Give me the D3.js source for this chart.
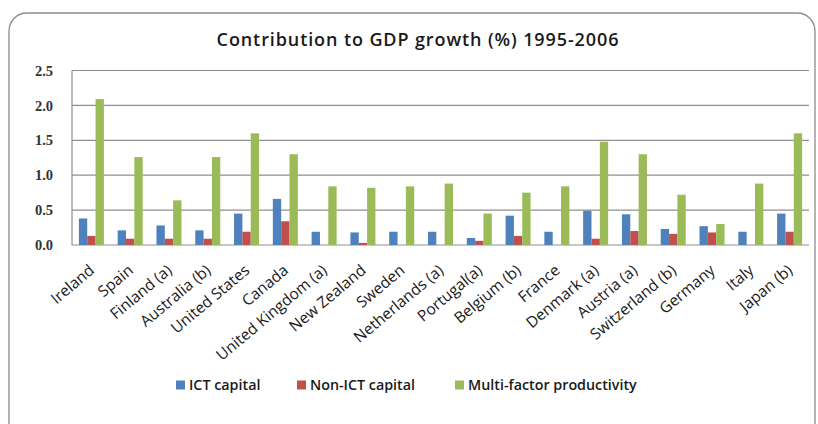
<!DOCTYPE html>
<html>
<head>
<meta charset="utf-8">
<script src="https://cdn.jsdelivr.net/npm/d3@7"></script>
<style>
  body { margin: 0; background: #fff; }
  svg { display: block; font-family: "Open Sans", "Liberation Sans", sans-serif; }
</style>
</head>
<body>
<svg id="chart" width="818" height="424"></svg>
<script>
// data
const countries = ["Ireland", "Spain", "Finland (a)", "Australia (b)", "United States", "Canada",
  "United Kingdom (a)", "New Zealand", "Sweden", "Netherlands (a)", "Portugal(a)", "Belgium (b)",
  "France", "Denmark (a)", "Austria (a)", "Switzerland (b)", "Germany", "Italy", "Japan (b)"]
const ictCapital    = [0.38, 0.21, 0.28, 0.21, 0.45, 0.66, 0.19, 0.18, 0.19, 0.19, 0.10, 0.42, 0.19, 0.49, 0.44, 0.23, 0.27, 0.19, 0.45]
const nonIctCapital = [0.13, 0.09, 0.09, 0.09, 0.19, 0.34, 0.00, 0.03, 0.00, 0.00, 0.06, 0.13, 0.00, 0.09, 0.20, 0.16, 0.18, 0.00, 0.19]
const multiFactor   = [2.09, 1.26, 0.64, 1.26, 1.60, 1.30, 0.84, 0.82, 0.84, 0.88, 0.45, 0.75, 0.84, 1.48, 1.30, 0.72, 0.30, 0.88, 1.60]
const seriesNames = ["ICT capital", "Non-ICT capital", "Multi-factor productivity"]
const yTicks = [0, 0.5, 1.0, 1.5, 2.0, 2.5]

const colors = ["#4f81bd", "#c0504d", "#9bbb59"]
const seriesValues = [ictCapital, nonIctCapital, multiFactor]

const svg = d3.select("#chart")
const margin = { left: 72, top: 70.5, right: 9, bottom: 179 }
const width = 818, height = 424
const font = "'Open Sans', 'Liberation Sans', sans-serif"

// outer frame with rounded corners
svg.append("rect")
  .attr("x", 9).attr("y", 13)
  .attr("width", 806).attr("height", 440)
  .attr("rx", 18)
  .attr("fill", "none")
  .attr("stroke", "#8c8c8c")
  .attr("stroke-width", 1.3)

svg.append("text")
  .attr("x", 418).attr("y", 46)
  .attr("text-anchor", "middle")
  .attr("font-size", 18)
  .attr("font-weight", 600)
  .attr("letter-spacing", 0.9)
  .attr("fill", "#1a1a1a")
  .text("Contribution to GDP growth (%) 1995-2006")

const table = countries.map((c, i) => ({ country: c, values: seriesValues.map(s => s[i]) }))

const x = d3.scaleBand()
  .domain(countries)
  .range([margin.left, width - margin.right])
  .paddingInner(0.355)
  .paddingOuter(0.1775)

const xInner = d3.scaleBand()
  .domain(d3.range(seriesNames.length))
  .range([0, x.bandwidth()])

const y = d3.scaleLinear()
  .domain([0, 2.5])
  .range([height - margin.bottom, margin.top])

// gridlines
svg.append("g")
  .selectAll("line")
  .data(yTicks)
  .join("line")
  .attr("x1", margin.left).attr("x2", width - margin.right)
  .attr("y1", d => y(d)).attr("y2", d => y(d))
  .attr("stroke", "#8f8f8f")
  .attr("stroke-width", 1.2)

// left axis line
svg.append("line")
  .attr("x1", margin.left).attr("x2", margin.left)
  .attr("y1", y(2.5)).attr("y2", y(0))
  .attr("stroke", "#8f8f8f")
  .attr("stroke-width", 1.2)

const yAxis = svg.append("g")
  .attr("transform", `translate(${margin.left},0)`)
  .call(d3.axisLeft(y).tickValues(yTicks).tickFormat(d3.format(".1f")).tickSize(0).tickPadding(19))
yAxis.select(".domain").remove()
yAxis.selectAll("text")
  .attr("font-family", "'Liberation Serif', serif")
  .attr("font-size", 14.5)
  .attr("font-weight", "bold")
  .attr("fill", "#333")

// bars
svg.append("g")
  .selectAll("g")
  .data(table)
  .join("g")
  .attr("transform", d => `translate(${x(d.country)},0)`)
  .selectAll("rect")
  .data(d => d.values)
  .join("rect")
  .attr("x", (d, i) => xInner(i))
  .attr("width", xInner.bandwidth())
  .attr("y", d => y(d))
  .attr("height", d => y(0) - y(d))
  .attr("fill", (d, i) => colors[i])

// category labels
const xAxis = svg.append("g")
  .attr("transform", `translate(0,${y(0)})`)
  .call(d3.axisBottom(x).tickSize(0).tickPadding(0))
xAxis.attr("font-family", font)
xAxis.select(".domain").remove()
xAxis.selectAll("text")
  .attr("font-size", 15.5)
  .attr("fill", "#1a1a1a")
  .attr("text-anchor", "end")
  .attr("dy", 0)
  .attr("transform", "translate(4,27) rotate(-40)")

// legend
const legendX = [176, 297, 455]
const legend = svg.append("g")
  .selectAll("g")
  .data(seriesNames)
  .join("g")
  .attr("transform", (d, i) => `translate(${legendX[i]},385)`)
legend.append("rect")
  .attr("x", 0).attr("y", -4.5)
  .attr("width", 9).attr("height", 9)
  .attr("fill", (d, i) => colors[i])
legend.append("text")
  .attr("x", 13).attr("y", 0)
  .attr("dy", "0.35em")
  .attr("font-size", 14.3)
  .attr("font-weight", 600)
  .attr("fill", "#1a1a1a")
  .text(d => d)
</script>
</body>
</html>
